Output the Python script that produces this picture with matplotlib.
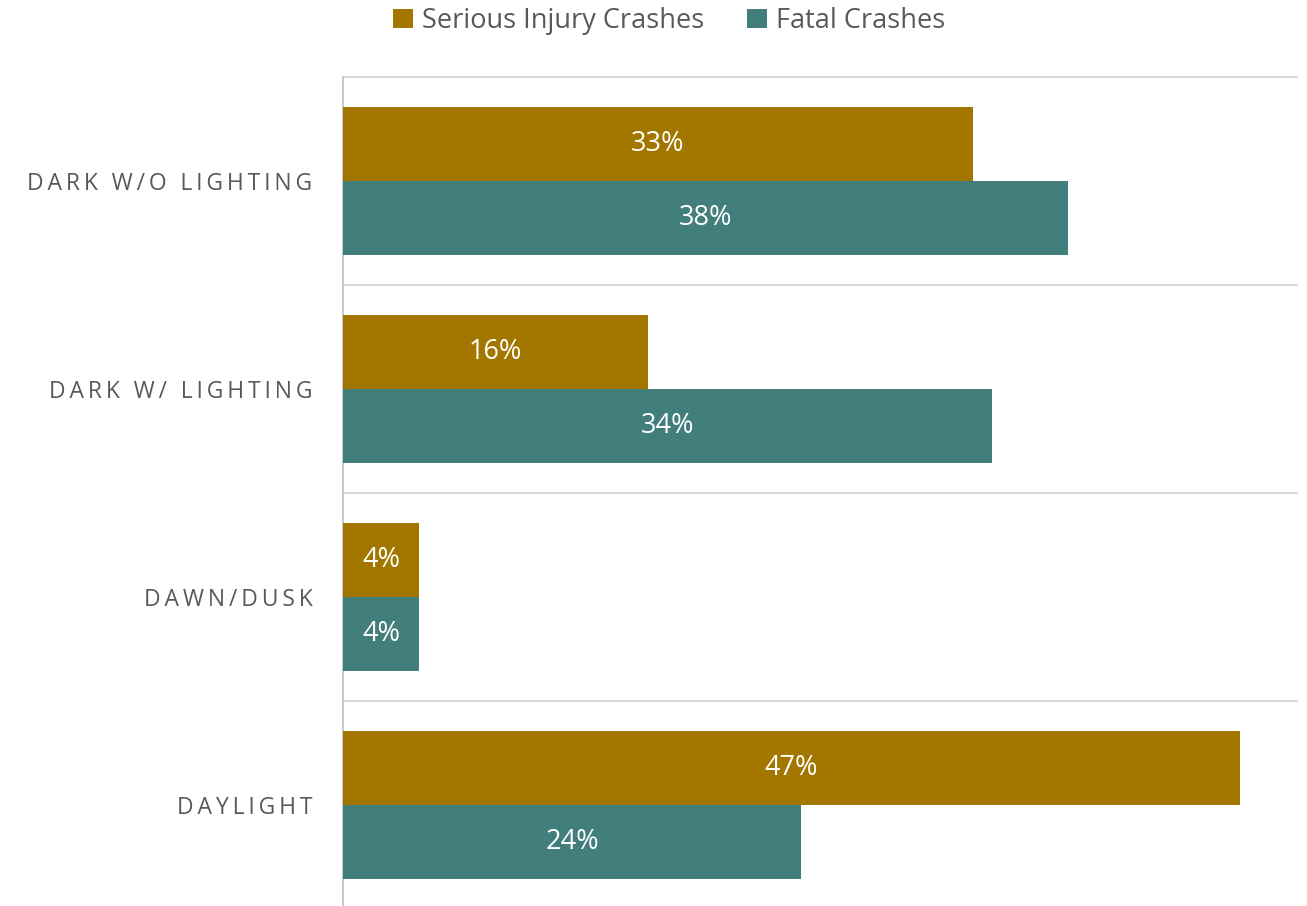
import matplotlib
matplotlib.use("Agg")
import matplotlib.pyplot as plt
from matplotlib.patches import Patch
import numpy as np

categories = ["DARK W/O LIGHTING", "DARK W/ LIGHTING", "DAWN/DUSK", "DAYLIGHT"]
serious = [33, 16, 4, 47]
fatal = [38, 34, 4, 24]
series_names = ["Serious Injury Crashes", "Fatal Crashes"]

GOLD = "#A37600"
TEAL = "#417E7C"
TEXT = "#595959"

plt.rcParams['font.family'] = ['Open Sans', 'DejaVu Sans']

fig = plt.figure(figsize=(13.07, 9.06), dpi=100)
ax = fig.add_axes([343/1307, -3/906, (1297-343)/1307, 832/906])

y = np.arange(len(categories))
h = 0.36
off = 0.178
b1 = ax.barh(y - off, serious, height=h, color=GOLD, edgecolor='none', zorder=3)
b2 = ax.barh(y + off, fatal, height=h, color=TEAL, edgecolor='none', zorder=3)

for bars, vals in ((b1, serious), (b2, fatal)):
    for bar, v in zip(bars, vals):
        ax.text(bar.get_x() + bar.get_width() / 2, bar.get_y() + bar.get_height() / 2,
                f"{v}%", ha='center', va='center', color='white', fontsize=19.5, zorder=4)

ax.set_xlim(0, 50)
ax.set_ylim(3.5, -0.5)
ax.set_xticks([])
ax.set_yticks(y)
spaced = ['\u2006'.join(c) for c in categories]
ax.set_yticklabels(spaced, fontsize=16.5, color=TEXT)
ax.tick_params(axis='y', length=0, pad=22)

for s in ('top', 'right', 'bottom'):
    ax.spines[s].set_visible(False)
ax.spines['left'].set_color('#BFBFBF')
ax.spines['left'].set_linewidth(1.2)

for yy in np.arange(-0.5, 4.0, 1.0):
    ax.axhline(yy, color='#D9D9D9', linewidth=1.5, zorder=1, clip_on=False)

handles = [Patch(facecolor=GOLD, edgecolor='none'), Patch(facecolor=TEAL, edgecolor='none')]
leg = fig.legend(handles, series_names, loc='center', bbox_to_anchor=(669/1307, 1 - 21/906),
                 ncol=2, frameon=False, fontsize=19.5, handlelength=0.75, handleheight=0.75,
                 handletextpad=0.3, columnspacing=1.6, labelcolor=TEXT)

fig.savefig("out.png", dpi=100)
